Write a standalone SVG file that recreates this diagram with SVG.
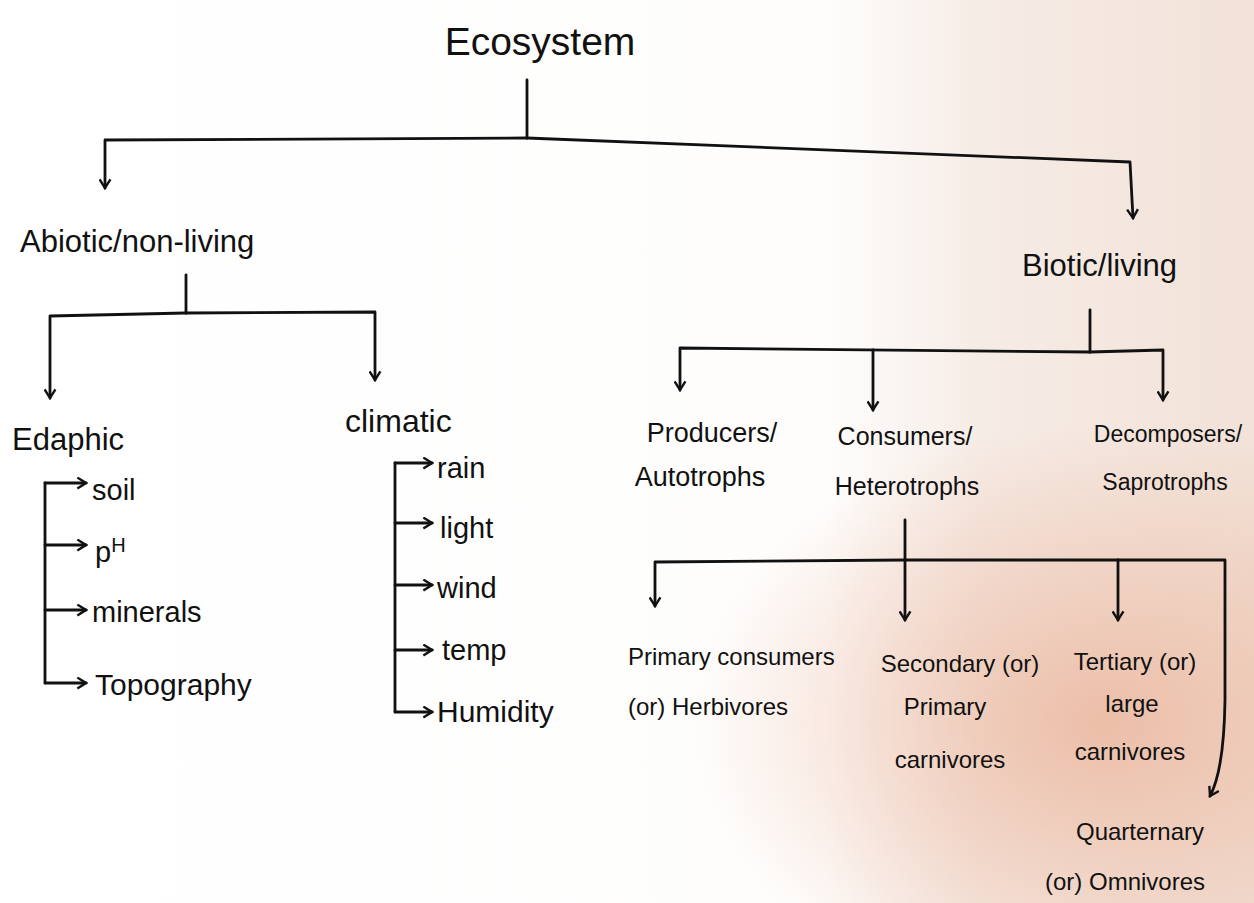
<svg xmlns="http://www.w3.org/2000/svg" width="1254" height="903" viewBox="0 0 1254 903">
<defs>
<linearGradient id="bg" x1="0" y1="0" x2="1" y2="0">
<stop offset="0" stop-color="#ffffff"/>
<stop offset="0.66" stop-color="#fefdfc"/>
<stop offset="0.78" stop-color="#f6ece6"/>
<stop offset="1" stop-color="#f2e2d8"/>
</linearGradient>
<radialGradient id="warm" cx="0.88" cy="0.8" r="0.33">
<stop offset="0" stop-color="#eab49a" stop-opacity="0.8"/>
<stop offset="1" stop-color="#eab49a" stop-opacity="0"/>
</radialGradient>
<marker id="arr" viewBox="0 0 12 12" refX="10" refY="6" markerWidth="13" markerHeight="13" markerUnits="userSpaceOnUse" orient="auto">
<path d="M2,1 L10,6 L2,11" fill="none" stroke="#111" stroke-width="2.2"/>
</marker>
<style>
.t{font-family:"Liberation Sans","DejaVu Sans",sans-serif;fill:#111}
.c{stroke:#111;stroke-width:2.8;fill:none;stroke-linejoin:round;stroke-linecap:round}
.a{marker-end:url(#arr)}
</style>
</defs>
<rect width="1254" height="903" fill="url(#bg)"/>
<rect width="1254" height="903" fill="url(#warm)"/>

<g id="connectors">
<path class="c" d="M527,80 V138"/>
<path class="c a" d="M527,138 L105,140 L105,188"/>
<path class="c a" d="M527,138 L1130,162 L1133,218"/>
<path class="c" d="M186,275 V313"/>
<path class="c a" d="M186,313 L50,316 L50,398"/>
<path class="c a" d="M186,313 L375,312 L375,380"/>
<path class="c" d="M45,483 V683"/>
<path class="c a" d="M45,483 H86"/>
<path class="c a" d="M45,545 H86"/>
<path class="c a" d="M45,610 H86"/>
<path class="c a" d="M45,683 H86"/>
<path class="c" d="M395,463 V712"/>
<path class="c a" d="M395,463 H432"/>
<path class="c a" d="M395,523 H432"/>
<path class="c a" d="M395,585 H432"/>
<path class="c a" d="M395,650 H432"/>
<path class="c a" d="M395,712 H432"/>
<path class="c" d="M1090,310 V352"/>
<path class="c a" d="M1090,352 L680,348 L680,390"/>
<path class="c a" d="M873,350 L873,410"/>
<path class="c a" d="M1090,352 L1163,350 L1163,400"/>
<path class="c a" d="M905,520 V620"/>
<path class="c a" d="M905,560 L655,562 L655,606"/>
<path class="c a" d="M905,560 L1118,560 L1118,620"/>
<path class="c a" d="M1118,560 L1225,560 L1225,700 Q1224,770 1210,796"/>
</g>

<g id="ecosystem"><text class="t" x="540" y="55" font-size="39" text-anchor="middle">Ecosystem</text></g>
<g id="abiotic"><text class="t" x="20" y="252" font-size="31">Abiotic/non-living</text></g>
<g id="biotic"><text class="t" x="1022" y="276" font-size="31">Biotic/living</text></g>

<g id="edaphic"><text class="t" x="12" y="450" font-size="31">Edaphic</text></g>
<g id="soil"><text class="t" x="92" y="500" font-size="29">soil</text></g>
<g id="ph"><text class="t" x="95" y="562" font-size="29">p<tspan dy="-10" font-size="20">H</tspan></text></g>
<g id="minerals"><text class="t" x="92" y="622" font-size="29">minerals</text></g>
<g id="topography"><text class="t" x="95" y="695" font-size="30">Topography</text></g>

<g id="climatic"><text class="t" x="345" y="432" font-size="32">climatic</text></g>
<g id="rain"><text class="t" x="437" y="478" font-size="29">rain</text></g>
<g id="light"><text class="t" x="440" y="538" font-size="29">light</text></g>
<g id="wind"><text class="t" x="437" y="598" font-size="29">wind</text></g>
<g id="temp"><text class="t" x="442" y="660" font-size="29">temp</text></g>
<g id="humidity"><text class="t" x="437" y="722" font-size="30">Humidity</text></g>

<g id="producers"><text class="t" font-size="27" text-anchor="middle"><tspan x="712" y="442">Producers/</tspan><tspan x="700" y="486">Autotrophs</tspan></text></g>
<g id="consumers"><text class="t" font-size="25" text-anchor="middle"><tspan x="905" y="445">Consumers/</tspan><tspan x="907" y="495">Heterotrophs</tspan></text></g>
<g id="decomposers"><text class="t" font-size="23" text-anchor="middle"><tspan x="1168" y="442">Decomposers/</tspan><tspan x="1165" y="490">Saprotrophs</tspan></text></g>

<g id="primary"><text class="t" font-size="24"><tspan x="628" y="665">Primary consumers</tspan><tspan x="628" y="715">(or) Herbivores</tspan></text></g>
<g id="secondary"><text class="t" font-size="24" text-anchor="middle"><tspan x="960" y="672">Secondary (or)</tspan><tspan x="945" y="715">Primary</tspan><tspan x="950" y="768">carnivores</tspan></text></g>
<g id="tertiary"><text class="t" font-size="24" text-anchor="middle"><tspan x="1135" y="670">Tertiary (or)</tspan><tspan x="1132" y="712">large</tspan><tspan x="1130" y="760">carnivores</tspan></text></g>
<g id="quarternary"><text class="t" font-size="24" text-anchor="middle"><tspan x="1140" y="840">Quarternary</tspan><tspan x="1125" y="890">(or) Omnivores</tspan></text></g>
</svg>
